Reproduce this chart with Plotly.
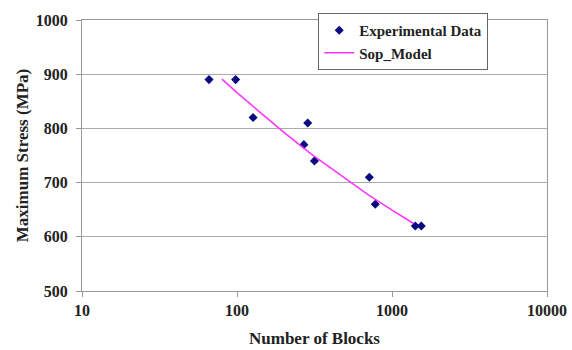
import plotly.graph_objects as go

# Experimental data
exp_blocks = [66, 98, 127, 286, 270, 316, 714, 780, 1413, 1545]
exp_stress = [890, 890, 820, 810, 770, 740, 710, 660, 620, 620]

# Sop_Model curve
model_blocks = [80, 100, 150, 200, 300, 500, 700, 1000, 1370]
model_stress = [891, 866, 823, 793, 753, 707, 678, 649, 625]

x_ticks = [10, 100, 1000, 10000]
y_ticks = [500, 600, 700, 800, 900, 1000]

font_main = dict(family="Liberation Serif", size=16, color="#222222")

fig = go.Figure()
fig.add_trace(go.Scatter(
    x=exp_blocks, y=exp_stress, mode="markers", name="<b>Experimental Data</b>",
    marker=dict(symbol="diamond", size=7, color="#0a0a80"),
))
fig.add_trace(go.Scatter(
    x=model_blocks, y=model_stress, mode="lines", name="<b>Sop_Model</b>",
    line=dict(color="#ff33ff", width=1.5),
))

fig.update_layout(
    width=572, height=350,
    margin=dict(l=82, r=25, t=20, b=59),
    paper_bgcolor="white", plot_bgcolor="white",
    font=font_main,
    showlegend=True,
    legend=dict(
        x=0.508, y=1.026, xanchor="left", yanchor="top",
        bgcolor="white", bordercolor="#666666", borderwidth=1,
        font=dict(family="Liberation Serif", size=15, color="#222222"),
        tracegroupgap=0, itemwidth=30,
    ),
)
fig.update_xaxes(
    type="log", range=[1, 4], automargin=False,
    tickvals=x_ticks, ticktext=[f"<b>{v}</b>" for v in x_ticks],
    tickfont=dict(size=16),
    showgrid=False, showline=True, linecolor="#999999", linewidth=1, mirror=True,
    ticks="outside", ticklen=5, tickcolor="#999999",
    title=dict(text="<b>Number of Blocks</b>", font=dict(size=17), standoff=13),
    zeroline=False,
)
fig.update_yaxes(
    range=[500, 1000], automargin=False,
    tickvals=y_ticks, ticktext=[f"<b>{v}</b>" for v in y_ticks],
    tickfont=dict(size=16), ticklabelstandoff=5,
    showgrid=True, gridcolor="#aaaaaa", gridwidth=1,
    showline=True, linecolor="#999999", linewidth=1, mirror=True,
    ticks="outside", ticklen=5, tickcolor="#999999",
    title=dict(text="<b>Maximum Stress (MPa)</b>", font=dict(size=17), standoff=2),
    zeroline=False,
)

fig.write_html("out.html")
